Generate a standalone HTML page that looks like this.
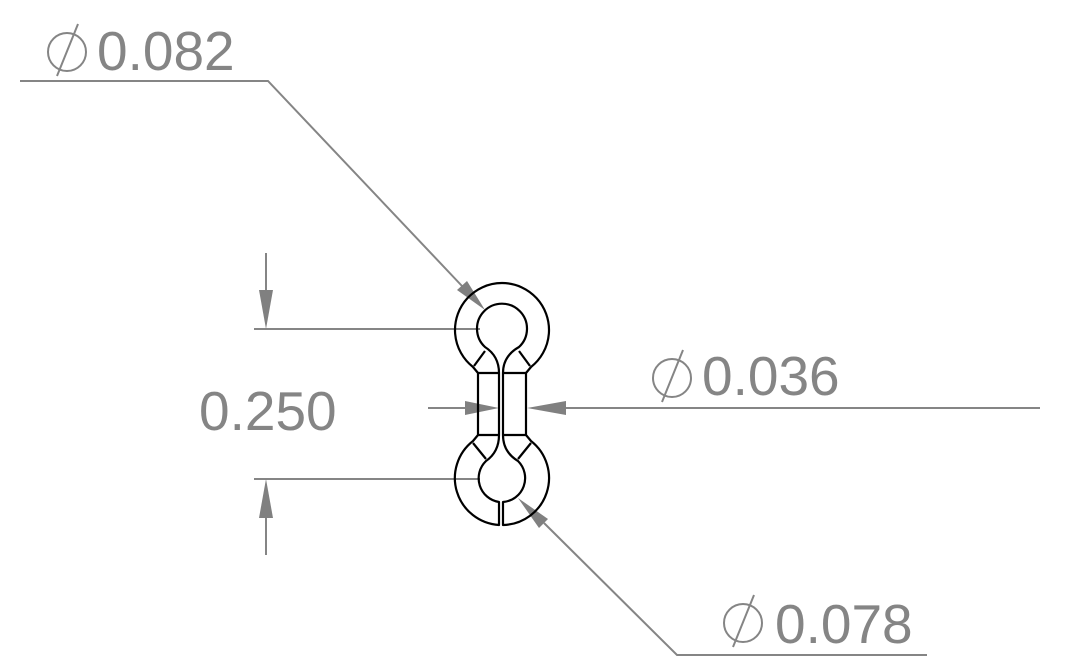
<!DOCTYPE html>
<html><head><meta charset="utf-8"><style>
html,body{margin:0;padding:0;background:#fff;}
svg{display:block;}
text{font-family:"Liberation Sans",sans-serif;font-size:55px;fill:#858585;}
</style></head><body>
<svg width="1085" height="671" viewBox="0 0 1085 671" xmlns="http://www.w3.org/2000/svg">
<g stroke="#858585" stroke-width="2" fill="none">
  <!-- 0.082 leader -->
  <polyline points="20,81 268,81 462,286"/>
  <!-- 0.250 extension lines -->
  <line x1="254" y1="329" x2="480" y2="329"/>
  <line x1="254" y1="479" x2="480" y2="479"/>
  <line x1="266" y1="253" x2="266" y2="292"/>
  <line x1="266" y1="518" x2="266" y2="555"/>
  <!-- 0.036 -->
  <line x1="428" y1="408" x2="466" y2="408"/>
  <line x1="564" y1="408" x2="1040" y2="408"/>
  <!-- 0.078 leader -->
  <polyline points="927,655 677,655 544,523"/>
  <!-- diameter symbols -->
  <circle cx="67" cy="52" r="19"/><line x1="57" y1="76" x2="78" y2="24"/>
  <circle cx="672" cy="378" r="19"/><line x1="662" y1="402" x2="683" y2="350"/>
  <circle cx="743" cy="623" r="19"/><line x1="733" y1="647" x2="754" y2="595"/>
</g>
<g fill="#808080">
  <polygon points="485,310 457,290 467,281"/>
  <polygon points="266,329 259,290 273,290"/>
  <polygon points="266,479 259,518 273,518"/>
  <polygon points="499,408 465,401 465,415"/>
  <polygon points="527,408 566,401 566,415"/>
  <polygon points="518,498 548,519 539,528"/>
</g>
<g stroke="#000" stroke-width="2.2" fill="none" stroke-linejoin="round">
  <path d="M499,525 L499,502 A24,24 0 0 1 486,461 Q499,452 499,435 L499,373 Q499,356 485,347 A25,25 0 1 1 519,347 Q503,356 503,373 L503,435 Q503,452 518,461 A24,24 0 0 1 503,502 L503,525 A47,47 0 0 0 531,441 L526,435 L526,373 L531,367 A47,47 0 1 0 473,367 L478,373 L478,435 L473,441 A47,47 0 0 0 499,525 Z"/>
  <line x1="478" y1="373" x2="499" y2="373"/>
  <line x1="503" y1="373" x2="526" y2="373"/>
  <line x1="478" y1="435" x2="499" y2="435"/>
  <line x1="503" y1="435" x2="526" y2="435"/>
  <line x1="485" y1="351" x2="474" y2="366"/>
  <line x1="519" y1="351" x2="530" y2="366"/>
  <line x1="473" y1="443" x2="486" y2="459"/>
  <line x1="531" y1="443" x2="518" y2="459"/>
</g>
<text x="97" y="70">0.082</text>
<text x="199" y="430">0.250</text>
<text x="702" y="395">0.036</text>
<text x="775" y="643">0.078</text>
</svg>
</body></html>
